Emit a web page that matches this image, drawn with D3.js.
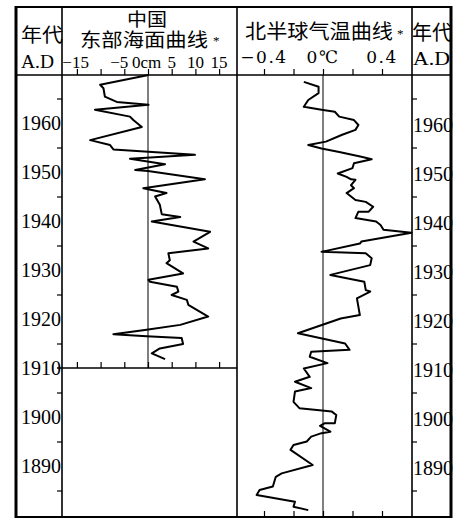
<!DOCTYPE html>
<html><head><meta charset="utf-8">
<script src="https://cdn.jsdelivr.net/npm/d3@7"></script>
<style>body{margin:0;background:#fff}svg{display:block}</style>
</head><body><svg id="c" width="458" height="519"></svg>
<script>
// ---- data ----
const seaYear = [1969.8,1967.8,1967.1,1965.4,1964.3,1963.7,1962.7,1961.3,1960.6,1959.2,1956.5,1955.5,1954.6,1953.5,1952.7,1951.6,1950.4,1950.2,1948.5,1946.7,1945.7,1945.0,1943.3,1941.4,1940.8,1939.9,1937.8,1935.8,1934.4,1933.4,1932.0,1931.4,1929.3,1928.0,1927.6,1926.6,1925.6,1924.9,1923.9,1922.9,1920.5,1918.8,1917.8,1916.9,1916.5,1916.1,1914.9,1914.0,1913.0,1911.8];
const seaCm = [0.1,-10.1,-9.4,-9.1,-6.6,0.1,-11.2,-3.8,-3.1,-1.3,-12.2,-8.0,-7.3,9.9,-3.8,3.6,-2.7,0,12.0,-1.0,3.9,1.5,2.5,2.9,6.8,0.8,13.1,9.6,12.7,4.3,4.6,3.9,7.4,0.1,0.4,6.1,6.4,5.0,8.2,8.5,12.7,6.8,-0.3,-7.3,-0.3,7.1,7.4,2.5,0.8,3.6];
const tempYear = [1968.4,1967.4,1966.1,1964.7,1963.3,1962.7,1962.3,1961.3,1960.6,1959.6,1958.6,1957.6,1956.2,1955.5,1954.8,1954.1,1953.1,1952.6,1951.8,1950.8,1949.7,1949.0,1948.5,1948.4,1947.3,1946.7,1945.7,1944.3,1943.9,1942.9,1941.9,1941.9,1940.6,1939.9,1939.2,1938.2,1937.6,1935.8,1935.4,1933.7,1933.4,1932.4,1931.0,1929.0,1927.6,1925.9,1925.6,1924.2,1920.8,1920.1,1917.1,1915.0,1913.7,1913.3,1912.3,1911.0,1909.9,1908.2,1907.2,1905.9,1905.2,1903.1,1901.8,1901.1,1900.4,1898.7,1898.7,1898.2,1897.0,1896.7,1896.0,1895.0,1894.3,1893.3,1890.2,1888.5,1887.8,1885.8,1885.1,1884.1,1882.7,1881.7,1881.0];
const tempC = [-0.13,-0.03,-0.03,-0.10,-0.13,-0.01,0.08,0.11,0.21,0.24,0.22,0.13,0.02,-0.10,-0.01,0.11,0.26,0.33,0.21,0.20,0.10,0.16,0.19,0.22,0.19,0.21,0.16,0.22,0.29,0.34,0.31,0.24,0.22,0.36,0.39,0.41,0.60,0.26,0.25,-0.01,0.29,0.33,0.32,0.05,0.28,0.29,0.32,0.23,0.25,0.12,-0.17,0.15,0.18,-0.08,-0.09,0.03,-0.13,-0.09,-0.19,-0.08,-0.19,-0.20,-0.16,0.06,0.09,0.08,0.01,-0.02,0.05,-0.01,-0.08,-0.11,-0.20,-0.22,-0.07,-0.28,-0.32,-0.34,-0.43,-0.45,-0.19,-0.20,-0.10];
const seaTicks = [-15,-10,-5,0,5,10,15];
const seaTickLabels = ["−15","","−5","0cm","5","10","15"];
const tempTicks = [-0.4,-0.2,0,0.2,0.4];
const tempTickLabels = ["−0.4","","0℃","","0.4"];
const yearLabels = [1890,1900,1910,1920,1930,1940,1950,1960];
const yearMinor = [1885,1895,1905,1915,1925,1935,1945,1955,1965];
const seaTitle = ["中国","东部海面曲线"];
const tempTitle = "北半球气温曲线";
const yearTitle = ["年代","A.D"];
const seaEndYear = 1910;

// ---- layout ----
const L=16,R=451,T=7,B=517,HB=75,X1=62,X2=237,X3=412;
const svg=d3.select("#c");
const y=d3.scaleLinear().domain([1910,1960]).range([368,123]);
const xs=d3.scaleLinear().domain([0,5]).range([148,171.7]);
const xt=d3.scaleLinear().domain([0,0.4]).range([323,382]);
const serif="'Liberation Serif','Times New Roman',serif";
const cjk="'Liberation Sans','Noto Sans CJK SC',sans-serif";

function ln(x1,y1,x2,y2,w){svg.append("line").attr("x1",x1).attr("y1",y1).attr("x2",x2).attr("y2",y2).attr("stroke","#000").attr("stroke-width",w);}
// frame
ln(L,T-1,L,B+1,3); ln(R,T-1,R,B+1,3);
ln(L,T,R,T,2); ln(L,B,R,B,2);
ln(L,HB,R,HB,1.6);
ln(X1,T,X1,B,1.6); ln(X2,T,X2,B,1.6); ln(X3,T,X3,B,1.6);
const y1910=y(seaEndYear);
ln(X1-5,y1910,X2,y1910,1.6);
ln(xs(0),HB,xs(0),y1910,1);
ln(xt(0),HB,xt(0),B,1);

function axisG(axis,tx,ty){
  const g=svg.append("g").attr("transform",`translate(${tx},${ty})`).call(axis);
  g.select(".domain").remove();
  g.selectAll(".tick line").attr("stroke","#000").attr("stroke-width",1.2);
  g.selectAll("text").remove();
  return g;
}
axisG(d3.axisTop(xs).tickValues(seaTicks).tickSize(6),0,HB);
axisG(d3.axisTop(xs).tickValues(seaTicks).tickSize(6),0,y1910);
axisG(d3.axisTop(xt).tickValues(tempTicks).tickSize(6),0,HB);
axisG(d3.axisTop(xt).tickValues(tempTicks).tickSize(6),0,B);
axisG(d3.axisLeft(y).tickValues(yearMinor).tickSize(5),X1,0);
axisG(d3.axisRight(y).tickValues(yearMinor).tickSize(5),X3,0);

// year labels
svg.append("g").selectAll("text").data(yearLabels).join("text")
  .attr("x",X1-1).attr("y",d=>y(d)).attr("dy","0.35em").attr("text-anchor","end")
  .attr("font-family",serif).attr("font-size",20).text(d=>d);
svg.append("g").selectAll("text").data(yearLabels).join("text")
  .attr("x",X3+1).attr("y",d=>y(d)+2).attr("dy","0.35em").attr("text-anchor","start")
  .attr("font-family",serif).attr("font-size",20).text(d=>d);

// tick labels (sea): negative labels sit left of their ticks, "0cm" straddles zero
svg.append("g").selectAll("text").data(seaTicks).join("text")
  .attr("x",d=>d<0?xs(d)+(d<-10?12:4):(d===0?xs(d)-16:xs(d)))
  .attr("y",68).attr("text-anchor",d=>d<0?"end":(d===0?"start":"middle"))
  .attr("font-family",serif).attr("font-size",17).text((d,i)=>seaTickLabels[i]);
svg.append("g").selectAll("text").data(tempTicks).join("text")
  .attr("x",d=>xt(d)).attr("y",63).attr("text-anchor","middle")
  .attr("font-family","'DejaVu Serif',serif").attr("font-size",17).attr("letter-spacing",1.5)
  .text((d,i)=>tempTickLabels[i]);

// header texts
function tx(s,x,yy,size,len,fam,anchor){
  const t=svg.append("text").attr("x",x).attr("y",yy).attr("font-size",size)
   .attr("font-family",fam||cjk).attr("text-anchor",anchor||"start").text(s);
  if(len) t.attr("textLength",len).attr("lengthAdjust","spacingAndGlyphs");
  return t;
}
tx(yearTitle[0],21,42,19,42);
tx(yearTitle[1],21,68,19,33,serif);
tx(yearTitle[0],412,40,20,40);
tx(yearTitle[1],413,65,19,37,serif);
tx(seaTitle[0],127,26,18,40);
tx(seaTitle[1],80,47,19,128);
tx("*",213,45,13,null,serif);
tx(tempTitle,245,39,20,148);
tx("*",397,38,13,null,serif);

// data lines
const lineSea=d3.line().x(d=>xs(d[1])).y(d=>y(d[0]));
svg.append("path").datum(seaYear.map((v,i)=>[v,seaCm[i]]))
  .attr("d",lineSea).attr("fill","none").attr("stroke","#000").attr("stroke-width",2).attr("stroke-linejoin","round");
const lineTemp=d3.line().x(d=>xt(d[1])).y(d=>y(d[0]));
svg.append("path").datum(tempYear.map((v,i)=>[v,tempC[i]]))
  .attr("d",lineTemp).attr("fill","none").attr("stroke","#000").attr("stroke-width",2).attr("stroke-linejoin","round");
</script></body></html>
